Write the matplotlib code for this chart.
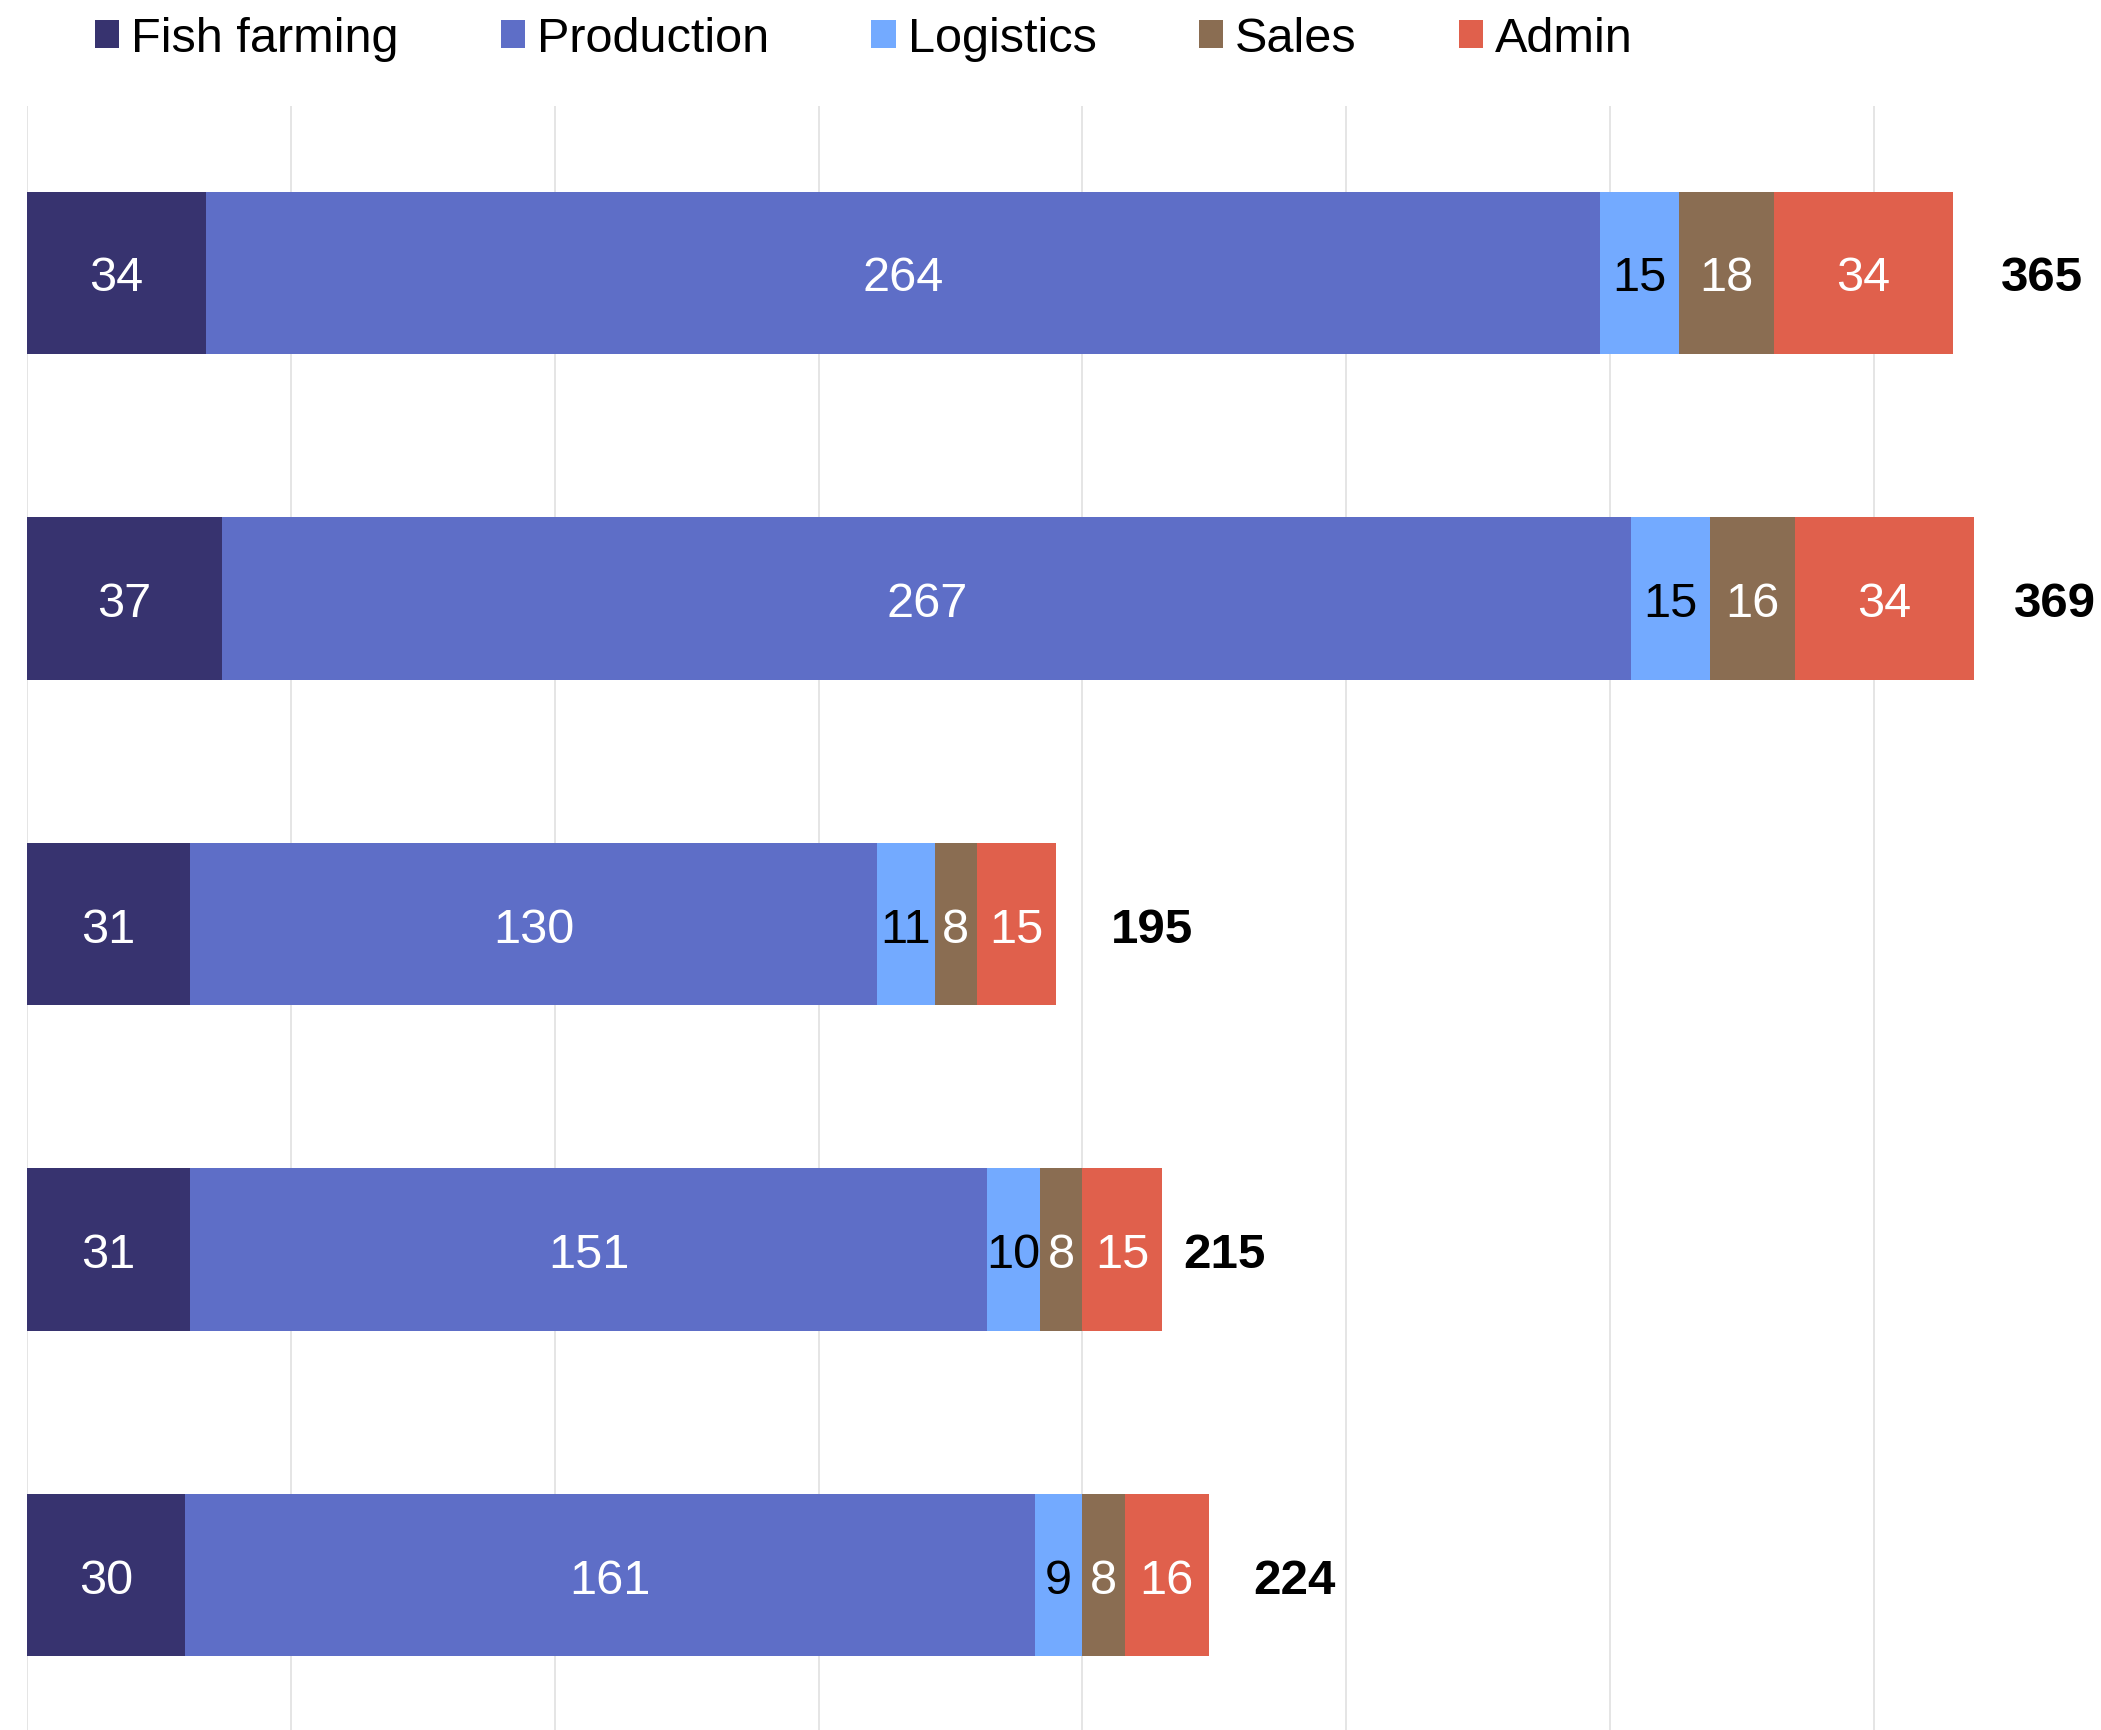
import numpy as np
import matplotlib.pyplot as plt

plt.rcParams['font.family'] = ['Liberation Sans', 'DejaVu Sans']

# data
categories = ['Row 1', 'Row 2', 'Row 3', 'Row 4', 'Row 5']
series = ['Fish farming', 'Production', 'Logistics', 'Sales', 'Admin']
fish_farming = [34, 37, 31, 31, 30]
production = [264, 267, 130, 151, 161]
logistics = [15, 15, 11, 10, 9]
sales = [18, 16, 8, 8, 8]
admin = [34, 34, 15, 15, 16]
totals = [365, 369, 195, 215, 224]

colors = ['#37336f', '#5e6ec7', '#73aaff', '#8a6d52', '#e0604c']
text_colors = ['white', 'white', 'black', 'white', 'white']
total_gaps = [9.1, 7.4, 10.4, 4.1, 8.4]  # gap between bar end and total label

values = [fish_farming, production, logistics, sales, admin]

fig = plt.figure(figsize=(21.01, 17.31), dpi=100)
ax = fig.add_axes([0.0128, 0.0, 0.9872, 0.938])

y = np.arange(len(categories))
left = np.zeros(len(categories))
for name, vals, col, tcol in zip(series, values, colors, text_colors):
    vals = np.array(vals, dtype=float)
    ax.barh(y, vals, left=left, height=0.5, color=col, label=name, zorder=2)
    for yi, l, v in zip(y, left, vals):
        ax.text(l + v / 2, yi, f'{int(v)}', ha='center', va='center_baseline',
                color=tcol, fontsize=35, zorder=3)
    left += vals

for yi, tot, gap in zip(y, totals, total_gaps):
    ax.text(tot + gap, yi, f'{tot}', ha='left', va='center_baseline', color='black',
            fontsize=35.5, fontweight='bold')

ax.set_xlim(0, 393)
ax.set_ylim(len(categories) - 1 + 0.476, -0.512)
ax.set_xticks(np.arange(0, 400, 50))
ax.set_yticks([])
ax.tick_params(axis='x', length=0, labelbottom=False)
ax.grid(axis='x', color='#e3e3e3', linewidth=1.3, zorder=0)
ax.set_axisbelow(True)
for s in ax.spines.values():
    s.set_visible(False)

fig.legend(loc='center left', bbox_to_anchor=(0.045, 0.977), ncol=5, frameon=False,
           fontsize=35, handlelength=0.5, handleheight=0.5, handletextpad=0.25,
           columnspacing=2.1, borderpad=0, borderaxespad=0)

fig.savefig('out.png', dpi=100)
